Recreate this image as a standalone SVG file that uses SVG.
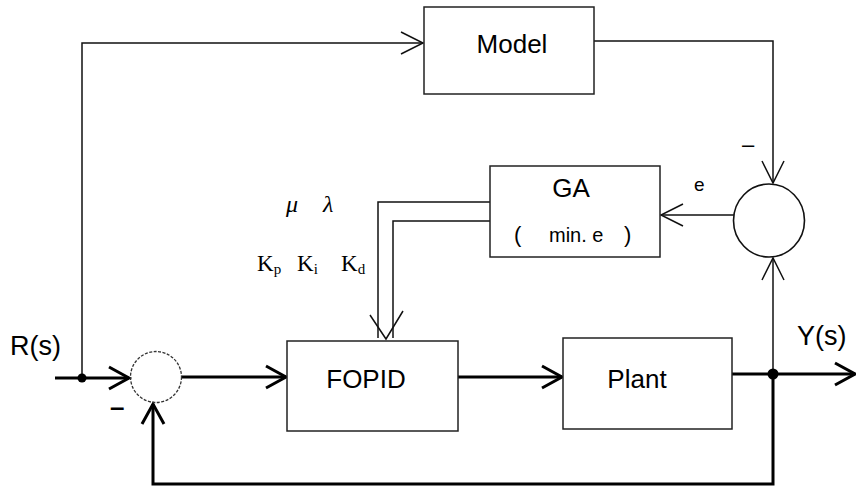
<svg xmlns="http://www.w3.org/2000/svg" width="856" height="488" viewBox="0 0 856 488">
  <style>
    .box { fill: #fff; stroke: #222; stroke-width: 1.5; }
    .thin { fill: none; stroke: #111; stroke-width: 1.5; }
    .thick { fill: none; stroke: #000; stroke-width: 3; }
    .lbl { font-family: "Liberation Sans", Arial, sans-serif; fill: #000; }
    .math { font-family: "Liberation Serif", "Times New Roman", serif; fill: #000; }
  </style>
  <defs>
    <marker id="arrThin" viewBox="0 0 22 24" refX="22" refY="12" markerWidth="22" markerHeight="24" orient="auto" markerUnits="userSpaceOnUse" overflow="visible">
      <path d="M0,1 L22,12 L0,23" fill="none" stroke="#111" stroke-width="1.5"/>
    </marker>
    <marker id="arrThick" viewBox="0 0 20 24" refX="20" refY="12" markerWidth="20" markerHeight="24" orient="auto" markerUnits="userSpaceOnUse" overflow="visible">
      <path d="M0,1 L20,12 L0,23" fill="none" stroke="#000" stroke-width="3"/>
    </marker>
  </defs>
  <rect width="856" height="488" fill="#fff"/>

  <!-- connectors -->
  <g id="connectors">
    <!-- reference input into the first summing junction -->
    <path class="thick" d="M55,378 L129,378" marker-end="url(#arrThick)"/>
    <!-- reference branch up to the model -->
    <path class="thin" d="M82,378 L82,43 L423,43" marker-end="url(#arrThin)"/>
    <!-- model output down into the error junction -->
    <path class="thin" d="M594,41 L773,41 L773,183" marker-end="url(#arrThin)"/>
    <!-- error signal into GA -->
    <path class="thin" d="M734,215 L661,215" marker-end="url(#arrThin)"/>
    <!-- tuned gains from GA into FOPID (double line) -->
    <path class="thin" d="M490,202 L378,202 L378,338"/>
    <path class="thin" d="M490,221 L393,221 L393,338"/>
    <path class="thin" d="M370,315 L386,339 L403,311"/>
    <!-- forward path -->
    <path class="thick" d="M182,377 L286,377" marker-end="url(#arrThick)"/>
    <path class="thick" d="M458,377 L562,377" marker-end="url(#arrThick)"/>
    <path class="thick" d="M732,374 L855,374" marker-end="url(#arrThick)"/>
    <!-- plant output up into the error junction -->
    <path class="thin" d="M773,374 L773,258" marker-end="url(#arrThin)"/>
    <!-- unity feedback -->
    <path class="thick" d="M773,374 L773,484 L153,484 L153,404" marker-end="url(#arrThick)"/>
    <!-- branch points -->
    <circle cx="82" cy="378" r="4.5" fill="#000"/>
    <circle cx="773" cy="374" r="5.5" fill="#000"/>
  </g>

  <!-- blocks -->
  <g id="model">
    <rect class="box" x="424" y="7" width="170" height="87"/>
    <text class="lbl" x="512" y="53" font-size="26" text-anchor="middle">Model</text>
  </g>

  <g id="ga">
    <rect class="box" x="490" y="166" width="170" height="91"/>
    <text class="lbl" x="571" y="197" font-size="26" text-anchor="middle">GA</text>
    <text class="lbl" y="242" font-size="20"><tspan x="514" font-size="22">(</tspan><tspan x="549">min. e</tspan><tspan x="624" font-size="22">)</tspan></text>
  </g>

  <g id="fopid">
    <rect class="box" x="287" y="341" width="171" height="90"/>
    <text class="lbl" x="366" y="388" font-size="26" text-anchor="middle">FOPID</text>
  </g>

  <g id="plant">
    <rect class="box" x="563" y="338" width="169" height="91"/>
    <text class="lbl" x="637" y="388" font-size="26" text-anchor="middle">Plant</text>
  </g>

  <g id="sum-in">
    <circle cx="156" cy="377" r="25.5" fill="none" stroke="#333" stroke-width="1.3" stroke-dasharray="3 1.5"/>
  </g>

  <g id="sum-error">
    <ellipse cx="769" cy="220.5" rx="35.5" ry="36.5" fill="none" stroke="#111" stroke-width="1.6"/>
  </g>

  <!-- signal labels -->
  <g id="labels">
    <text class="lbl" x="10" y="355" font-size="27">R(s)</text>
    <text class="lbl" x="797" y="345" font-size="27">Y(s)</text>
    <text class="lbl" x="694" y="191" font-size="19">e</text>
    <text class="lbl" x="110" y="416" font-size="26" font-weight="bold">–</text>
    <text class="lbl" x="742" y="152" font-size="22">–</text>
    <text class="math" x="286" y="212" font-size="24" font-style="italic">μ</text>
    <text class="math" x="323" y="212" font-size="24" font-style="italic">λ</text>
    <text class="math" x="257" y="271" font-size="23">K<tspan font-size="15" dy="3">p</tspan></text>
    <text class="math" x="297" y="271" font-size="23">K<tspan font-size="15" dy="3">i</tspan></text>
    <text class="math" x="341" y="271" font-size="23">K<tspan font-size="15" dy="3">d</tspan></text>
  </g>
</svg>
